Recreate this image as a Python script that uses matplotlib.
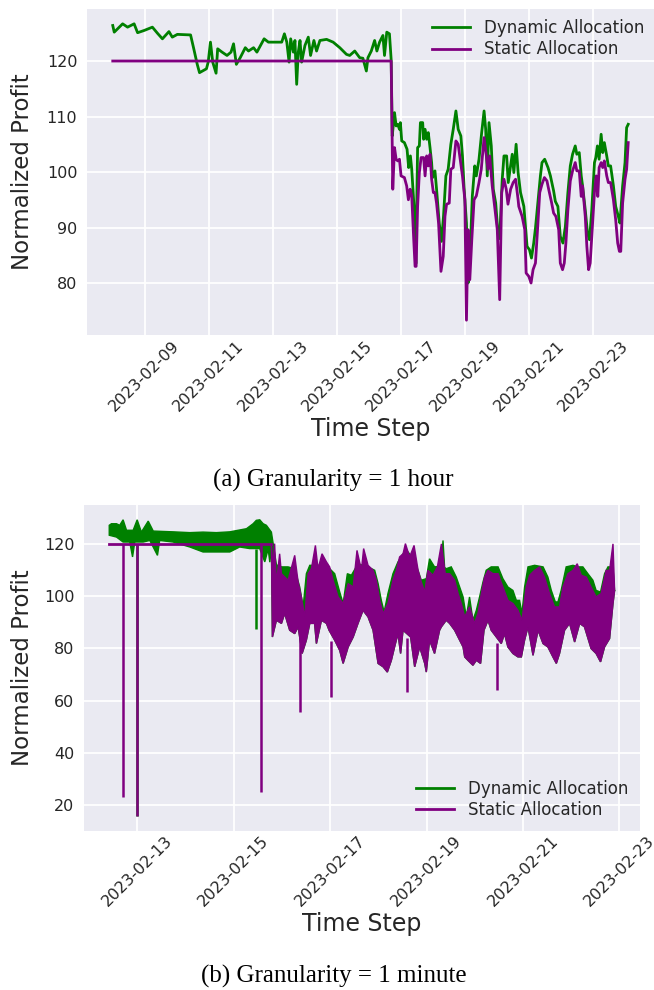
import numpy as np
import pandas as pd
import matplotlib
matplotlib.use("Agg")
import matplotlib.pyplot as plt
import matplotlib.dates as mdates
from matplotlib.lines import Line2D

# ---------------- data: (a) 1 hour granularity, hours since 2023-02-08 00:00 ----------------
dyn_a_h = [0.0, 1.1, 7.4, 11.1, 16.0, 18.6, 23.5, 29.7, 33.5, 37.2, 42.1, 44.6, 48.4, 58.3,
           60.7, 63.3, 65.0, 70.2, 71.5, 73.2, 74.9, 77.4, 78.6, 81.9, 85.6, 88.6, 90.5, 92.6,
           95.5, 99.3, 101.7, 105.5, 108.0, 113.4, 116.6, 122.9, 126.6, 128.6, 130.4, 132.1,
           133.3, 135.3, 136.5, 137.8, 139.0, 140.3, 141.5, 144.0, 146.5, 148.2, 150.7, 152.7,
           155.2, 160.2, 165.1, 170.1, 175.1, 177.5, 181.3, 185.0, 187.4, 190.0, 191.2, 193.7,
           196.2, 197.9, 199.9, 202.4, 203.6, 205.3, 207.3, 208.6,
           209.4, 211.1, 212.3, 213.5, 214.8, 215.5, 216.5, 218.5, 220.5, 221.7, 223.0, 224.0,
           226.0, 227.1, 228.4, 229.7, 230.5, 232.2, 232.9, 234.0, 235.2, 236.4, 237.7, 238.9,
           239.6, 241.4, 242.6, 244.6, 246.3, 247.8, 249.6, 251.3, 253.3, 255.1, 257.1, 258.8,
           260.8, 262.0, 263.3, 265.0, 266.2, 267.5, 269.4, 271.2, 272.4, 274.4, 276.4, 278.2,
           279.4, 280.6, 281.9, 283.6, 285.1, 286.9, 288.6, 289.9, 291.8, 293.1, 295.1, 296.3,
           298.1, 299.3, 300.5, 302.2, 303.7, 305.5, 308.0, 310.4, 312.2, 313.7, 315.4, 316.7,
           319.2, 320.4, 321.6, 323.6, 326.1, 327.9, 330.3, 331.6, 333.5, 335.3, 337.3, 339.1,
           341.0, 342.8, 344.5, 346.5, 347.7, 349.5, 351.0, 352.0, 354.0, 355.7, 357.2, 358.9,
           360.9, 361.9, 363.1, 364.4, 365.9, 367.1, 368.3, 370.1, 371.3, 373.0, 375.1, 376.8,
           378.8, 380.0, 382.0, 383.8, 385.0, 386.2]
dyn_a = [126.4, 125.2, 126.7, 126.1, 126.7, 125.1, 125.5, 126.1, 125.0, 124.0, 125.3, 124.3,
         124.8, 124.7, 122.2, 119.4, 117.9, 118.6, 119.8, 123.4, 119.8, 117.8, 122.2, 121.6,
         121.0, 121.6, 123.1, 119.4, 120.6, 122.4, 121.8, 122.4, 121.6, 124.0, 123.4, 123.4,
         123.4, 124.9, 123.4, 119.8, 124.0, 121.6, 123.7, 115.8, 121.6, 123.7, 119.8, 122.8,
         124.3, 121.0, 123.7, 121.8, 123.7, 123.9, 123.4, 122.4, 121.2, 121.0, 121.8, 120.6,
         120.5, 118.2, 120.6, 121.8, 123.7, 121.8, 123.4, 124.6, 121.0, 125.2, 124.9, 120.2,
         106.5, 110.7, 108.3, 108.6, 107.7, 108.9, 105.6, 105.3, 104.1, 100.8, 102.9, 100.5,
         92.6, 83.5, 104.4, 104.7, 108.9, 108.9, 105.9, 107.7, 105.9, 107.1, 104.4, 101.7,
         99.0, 100.2, 96.9, 90.8, 87.5, 92.0, 99.3, 100.5, 105.0, 107.7, 111.0, 107.7,
         106.5, 102.9, 96.9, 90.8, 80.0, 83.6, 95.7, 101.1, 99.3, 102.3, 107.1, 111.0,
         107.7, 99.3, 108.9, 104.7, 96.9, 94.4, 89.0, 88.0, 98.7, 102.9, 102.9, 98.1,
         101.1, 103.2, 99.9, 105.0, 99.9, 96.3, 93.8, 86.6, 86.0, 84.5, 87.2, 89.9,
         96.3, 99.3, 101.7, 102.3, 100.8, 99.3, 96.6, 94.7, 93.8, 88.4, 87.2, 90.2,
         96.3, 101.1, 103.2, 104.7, 103.2, 103.5, 99.3, 97.5, 93.2, 89.0, 87.8, 93.2,
         101.7, 102.6, 104.7, 102.3, 106.8, 103.5, 105.3, 102.9, 101.1, 101.1, 97.5, 93.8,
         92.0, 90.8, 97.5, 101.7, 108.0, 108.6]

sta_a_h = [0.0, 208.6,
           209.8, 211.1, 212.3, 213.5, 214.8, 216.0, 218.5, 220.2, 221.5, 222.8, 224.0, 225.5,
           226.5, 227.3, 228.4, 229.7, 231.0, 232.9, 234.0, 235.2, 236.4, 237.7, 238.9, 240.2,
           241.4, 242.6, 244.1, 245.9, 247.6, 248.9, 250.1, 252.1, 253.3, 255.1, 257.1, 258.8,
           260.3, 262.0, 263.8, 265.0, 266.2, 267.5, 269.0, 270.7, 272.4, 274.4, 276.1, 278.2,
           279.9, 281.1, 282.4, 284.3, 286.4, 288.1, 289.9, 291.4, 293.1, 294.8, 296.1, 298.1,
           300.0, 301.8, 303.7, 304.2, 306.7, 308.7, 309.7, 311.7, 313.4, 314.9, 316.7, 318.4,
           319.9, 321.6, 323.4, 325.3, 326.6, 328.6, 330.3, 332.0, 334.1, 335.3, 337.0, 338.3,
           339.5, 341.0, 342.8, 344.5, 346.5, 347.7, 349.5, 351.0, 352.0, 354.0, 355.2, 356.5,
           357.7, 358.9, 360.9, 362.2, 363.4, 364.4, 365.9, 367.1, 368.3, 370.1, 371.3, 373.0,
           375.1, 376.8, 378.3, 379.6, 380.6, 382.0, 383.8, 385.0, 386.2]
sta_a = [120.0, 120.0,
         96.9, 104.4, 102.3, 102.0, 102.3, 99.3, 99.0, 97.5, 95.0, 96.9, 95.7, 87.8,
         83.0, 83.0, 93.8, 99.9, 102.6, 102.6, 99.3, 102.9, 101.1, 103.2, 98.7, 96.3,
         96.3, 94.4, 90.8, 82.1, 84.8, 92.0, 94.2, 94.4, 100.5, 100.8, 105.6, 105.0,
         102.3, 99.3, 95.0, 73.3, 89.6, 80.6, 87.8, 95.0, 95.7, 98.1, 100.5, 106.2,
         102.9, 100.5, 102.9, 97.5, 93.2, 89.6, 77.0, 96.3, 98.7, 96.9, 94.2, 96.9,
         98.1, 98.7, 95.0, 93.8, 92.0, 89.6, 81.8, 81.2, 80.0, 82.4, 83.6, 90.2,
         96.3, 97.8, 99.0, 98.4, 96.9, 94.7, 92.6, 92.0, 89.6, 83.6, 82.4, 83.6,
         87.2, 93.2, 98.4, 100.2, 101.7, 100.2, 100.2, 95.6, 97.5, 92.0, 86.6, 82.4,
         83.6, 88.4, 96.3, 99.3, 95.6, 100.8, 101.7, 100.8, 102.0, 99.3, 98.1, 98.1,
         95.0, 91.4, 87.2, 85.7, 85.7, 94.4, 98.7, 100.5, 105.3]

ticks_a = ["2023-02-09", "2023-02-11", "2023-02-13", "2023-02-15",
           "2023-02-17", "2023-02-19", "2023-02-21", "2023-02-23"]

# ---------------- data: (b) 1 minute granularity, hours since 2023-02-12 00:00 ----------------
# dense series drawn as envelopes
dyn_hi_h = [10.1, 11.2, 13.7, 15.3, 17.0, 18.7, 22.0, 24.0, 26.1, 29.5, 32.0, 41.9, 50.2, 56.8,
            63.4, 70.1, 78.4, 81.7, 83.3, 85.0, 86.7, 88.3, 90.8,
            93.3, 95.8, 99.1, 102.4, 104.9, 106.6, 108.2, 109.9, 114.0, 118.2, 120.6, 122.3,
            124.8, 126.5, 128.6, 130.6, 133.9, 138.9, 142.2, 143.9, 145.5, 146.9, 148.8, 151.3,
            153.8, 156.3, 158.8, 162.1, 165.4, 167.9, 169.5, 172.0, 175.4, 176.2, 177.0, 177.8,
            180.3, 182.8, 184.5, 186.2, 187.8, 189.4, 191.1, 192.8, 194.4, 196.1, 197.7, 200.2,
            203.6, 206.0, 208.5, 211.0, 212.7, 214.3, 215.5, 216.8, 218.5, 221.8, 226.0, 228.4,
            230.1, 232.1, 233.4, 235.0, 237.5, 240.9, 243.4, 245.8, 248.3, 250.8, 252.4, 254.6,
            256.6, 258.3, 259.9, 260.8, 261.6]
dyn_hi = [127.1, 127.7, 127.7, 127.1, 129.2, 125.2, 125.2, 129.2, 124.5, 128.7, 124.9, 124.6,
          124.3, 124.5, 124.3, 124.6, 125.8, 127.7, 129.0, 129.2, 127.7, 127.1, 124.5,
          112.0, 111.2, 111.2, 110.5, 103.5, 95.9, 108.6, 111.8, 111.8, 111.8, 109.9, 108.6,
          101.6, 97.2, 108.6, 108.0, 112.4, 111.2, 109.9, 104.8, 98.4, 94.0, 101.0, 108.6,
          113.1, 116.2, 116.9, 113.7, 106.1, 106.7, 114.3, 111.2, 111.5, 121.3, 111.0, 110.5,
          111.2, 107.3, 103.5, 99.7, 92.1, 99.7, 90.8, 94.6, 99.7, 105.4, 109.9, 111.2,
          111.2, 106.7, 103.5, 102.2, 98.4, 98.4, 93.4, 103.5, 111.2, 111.8, 111.2, 107.3,
          102.2, 97.8, 97.8, 102.2, 111.2, 111.8, 111.2, 111.2, 108.6, 106.1, 102.2, 101.6,
          108.6, 111.2, 111.2, 111.0, 102.0]
dyn_lo_h = [10.1, 13.7, 17.0, 20.3, 21.7, 22.8, 27.0, 30.3, 34.1, 35.2, 41.9, 50.2, 56.8, 63.4,
            70.1, 75.0, 80.0, 85.0, 87.5, 89.2, 90.0]
dyn_lo = [123.3, 122.6, 120.7, 120.7, 115.0, 120.7, 120.7, 121.3, 115.6, 121.3, 120.7, 118.8,
          116.9, 116.9, 116.9, 118.8, 118.2, 118.2, 113.1, 118.0, 113.0]

sta_flat_h = [10.1, 90.8]
sta_flat = [120.0, 120.0]

sta_hi_h = [90.8, 91.3, 92.4, 93.3, 94.9, 95.8, 99.1, 102.4, 104.1, 105.7, 107.4, 109.1, 110.7,
            112.7, 114.0, 116.0, 118.2, 119.8, 121.5, 124.0, 126.5, 129.0, 131.5, 133.4, 135.6,
            136.7, 138.9, 141.4, 143.0, 144.7, 146.4, 148.8, 151.3, 153.0, 154.6, 156.3, 157.5,
            159.6, 161.8, 163.8, 165.4, 167.1, 168.7, 171.2, 173.4, 175.4, 177.3, 179.5, 182.0,
            183.7, 185.3, 187.0, 189.4, 191.9, 193.6, 195.3, 196.9, 198.6, 201.1, 203.6, 206.0,
            208.5, 211.0, 213.5, 215.5, 217.6, 219.3, 221.8, 224.3, 226.7, 229.2, 231.7, 234.2,
            235.9, 238.4, 240.9, 243.0, 245.0, 247.5, 249.9, 252.4, 254.9, 257.4, 259.1, 260.8,
            261.6]
sta_hi = [120.0, 110.0, 120.1, 105.0, 116.2, 108.6, 106.1, 115.6, 105.4, 99.7, 92.1, 108.6, 110.5,
          119.4, 110.5, 116.2, 113.1, 111.2, 106.1, 99.7, 97.2, 104.8, 103.5, 117.5, 109.9,
          118.2, 111.8, 109.9, 106.1, 98.4, 93.3, 97.2, 106.1, 109.9, 115.0, 116.2, 120.1,
          115.0, 119.4, 109.9, 105.4, 101.6, 109.9, 108.0, 111.2, 120.0, 108.6, 108.6, 106.1,
          101.0, 97.2, 92.1, 95.9, 89.6, 93.4, 101.0, 107.3, 109.9, 108.6, 108.6, 103.5,
          98.4, 97.2, 94.6, 90.8, 103.5, 108.0, 109.9, 111.2, 107.3, 101.0, 95.9, 95.9,
          103.5, 108.6, 109.9, 112.4, 108.0, 107.3, 103.5, 99.7, 101.0, 109.9, 109.9, 120.0,
          102.2]
sta_lo_h = [90.8, 91.3, 93.3, 95.8, 97.4, 99.9, 102.4, 104.1, 106.1, 108.2, 109.9, 112.3, 113.2,
            115.7, 118.2, 119.5, 122.3, 124.8, 126.5, 129.0, 131.5, 133.9, 136.4, 138.9, 141.4,
            143.9, 146.4, 148.5, 150.5, 152.1, 153.8, 155.1, 156.3, 160.1, 162.1, 164.6, 167.1,
            167.9, 169.5, 172.0, 174.5, 175.4, 177.8, 179.5, 182.0, 183.7, 186.2, 187.0, 188.6,
            191.1, 192.8, 194.9, 196.6, 198.6, 200.2, 205.2, 206.8, 208.5, 211.0, 213.5, 215.2,
            216.8, 218.5, 221.0, 223.5, 226.0, 228.4, 230.9, 232.6, 234.2, 236.7, 239.2, 241.7,
            244.2, 246.6, 249.9, 252.4, 254.6, 256.6, 259.1, 260.8, 261.6]
sta_lo = [120.0, 84.4, 90.8, 89.6, 93.4, 87.0, 85.7, 88.3, 78.1, 83.2, 89.6, 89.6, 81.9,
          90.8, 89.6, 87.0, 83.2, 79.3, 74.3, 80.6, 84.4, 89.6, 94.6, 92.1, 87.0,
          74.3, 73.0, 71.0, 75.5, 80.6, 85.7, 78.1, 87.0, 84.4, 73.0, 80.6, 74.3,
          71.0, 83.2, 78.1, 87.0, 88.3, 90.8, 89.6, 87.0, 84.4, 80.6, 76.8, 75.5,
          73.6, 75.5, 74.3, 87.0, 90.8, 87.0, 81.9, 85.7, 80.6, 78.1, 76.8, 76.8,
          83.2, 88.3, 77.4, 87.0, 81.9, 80.6, 76.8, 74.3, 78.1, 87.0, 89.6, 82.5,
          89.6, 88.3, 80.0, 78.1, 74.9, 80.6, 83.8, 97.2, 102.2]

# isolated spikes: time, start value, end value
sta_spike_h = [17.0, 24.0, 85.5, 104.9, 120.6, 158.3, 203.2]
sta_spike_from = [120.0, 120.0, 120.0, 85.0, 83.0, 84.0, 82.0]
sta_spike_to = [23.4, 16.0, 25.3, 55.8, 61.5, 63.5, 64.1]
dyn_spike_h = [24.0, 83.0]
dyn_spike_from = [120.0, 118.0]
dyn_spike_to = [16.0, 87.6]

ticks_b = ["2023-02-13", "2023-02-15", "2023-02-17", "2023-02-19", "2023-02-21", "2023-02-23"]

labels = ["Dynamic Allocation", "Static Allocation"]
GREEN, PURPLE = "green", "purple"

# ---------------- style ----------------
plt.rcParams.update({
    "font.family": ["DejaVu Sans"],
    "axes.facecolor": "#EAEAF2",
    "axes.edgecolor": "white",
    "grid.color": "white",
    "grid.linewidth": 1.3,
    "xtick.color": "#262626",
    "ytick.color": "#262626",
    "axes.labelcolor": "#262626",
    "text.color": "#262626",
})

def to_time(base, hours):
    return pd.Timestamp(base) + pd.to_timedelta(np.asarray(hours), unit="h")

def style_axes(ax, ticks, ylabelpad):
    ax.set_facecolor("#EAEAF2")
    for s in ax.spines.values():
        s.set_visible(False)
    ax.grid(True, color="white", linewidth=1.3)
    ax.set_axisbelow(True)
    ax.tick_params(axis="x", length=0, labelsize=11.5, pad=2)
    ax.tick_params(axis="y", length=0, labelsize=11.5, pad=7)
    ax.set_xticks(pd.to_datetime(ticks))
    ax.xaxis.set_major_formatter(mdates.DateFormatter("%Y-%m-%d"))
    plt.setp(ax.get_xticklabels(), rotation=45)
    ax.set_xlabel("Time Step", fontsize=17, labelpad=2)
    ax.set_ylabel("Normalized Profit", fontsize=16.5, labelpad=ylabelpad)

fig = plt.figure(figsize=(6.54, 9.9), dpi=100)

# ---- (a) ----
ax1 = fig.add_axes([0.133, 0.6616, 0.867, 0.3293])
ax1.plot(to_time("2023-02-08", dyn_a_h), dyn_a, color=GREEN, lw=2, label=labels[0])
ax1.plot(to_time("2023-02-08", sta_a_h), sta_a, color=PURPLE, lw=2, label=labels[1])
style_axes(ax1, ticks_a, 9)
ax1.set_yticks([80, 90, 100, 110, 120])
ax1.legend(loc="upper right", frameon=False, fontsize=12, handlelength=2.3,
           labelspacing=0.2, borderaxespad=0.2)

# ---- (b) ----
ax2 = fig.add_axes([0.1284, 0.1609, 0.850, 0.329])
base_b = "2023-02-12"
g_x = list(to_time(base_b, dyn_hi_h)) + list(to_time(base_b, dyn_lo_h + sta_lo_h))[::-1]
g_y = dyn_hi + (dyn_lo + sta_lo)[::-1]
ax2.fill(g_x, g_y, facecolor=GREEN, edgecolor=GREEN, lw=1)
ax2.vlines(to_time(base_b, dyn_spike_h), dyn_spike_from, dyn_spike_to, color=GREEN, lw=1.8)
p_x = list(to_time(base_b, sta_hi_h)) + list(to_time(base_b, sta_lo_h))[::-1]
p_y = sta_hi + sta_lo[::-1]
ax2.fill(p_x, p_y, facecolor=PURPLE, edgecolor=PURPLE, lw=1)
ax2.plot(to_time(base_b, sta_flat_h), sta_flat, color=PURPLE, lw=2)
ax2.vlines(to_time(base_b, sta_spike_h), sta_spike_from, sta_spike_to, color=PURPLE, lw=1.8)
style_axes(ax2, ticks_b, 7)
ax2.set_yticks([20, 40, 60, 80, 100, 120])
handles = [Line2D([], [], color=GREEN, lw=2), Line2D([], [], color=PURPLE, lw=2)]
ax2.legend(handles, labels, loc="lower right", frameon=False, fontsize=12, handlelength=2.3,
           labelspacing=0.2, borderaxespad=0.3)

# captions
fig.text(0.51, 0.515, "(a) Granularity = 1 hour", ha="center", va="center",
         family=["Liberation Serif"], fontsize=18, color="black")
fig.text(0.51, 0.014, "(b) Granularity = 1 minute", ha="center", va="center",
         family=["Liberation Serif"], fontsize=18, color="black")

fig.savefig("out.png", dpi=100)
